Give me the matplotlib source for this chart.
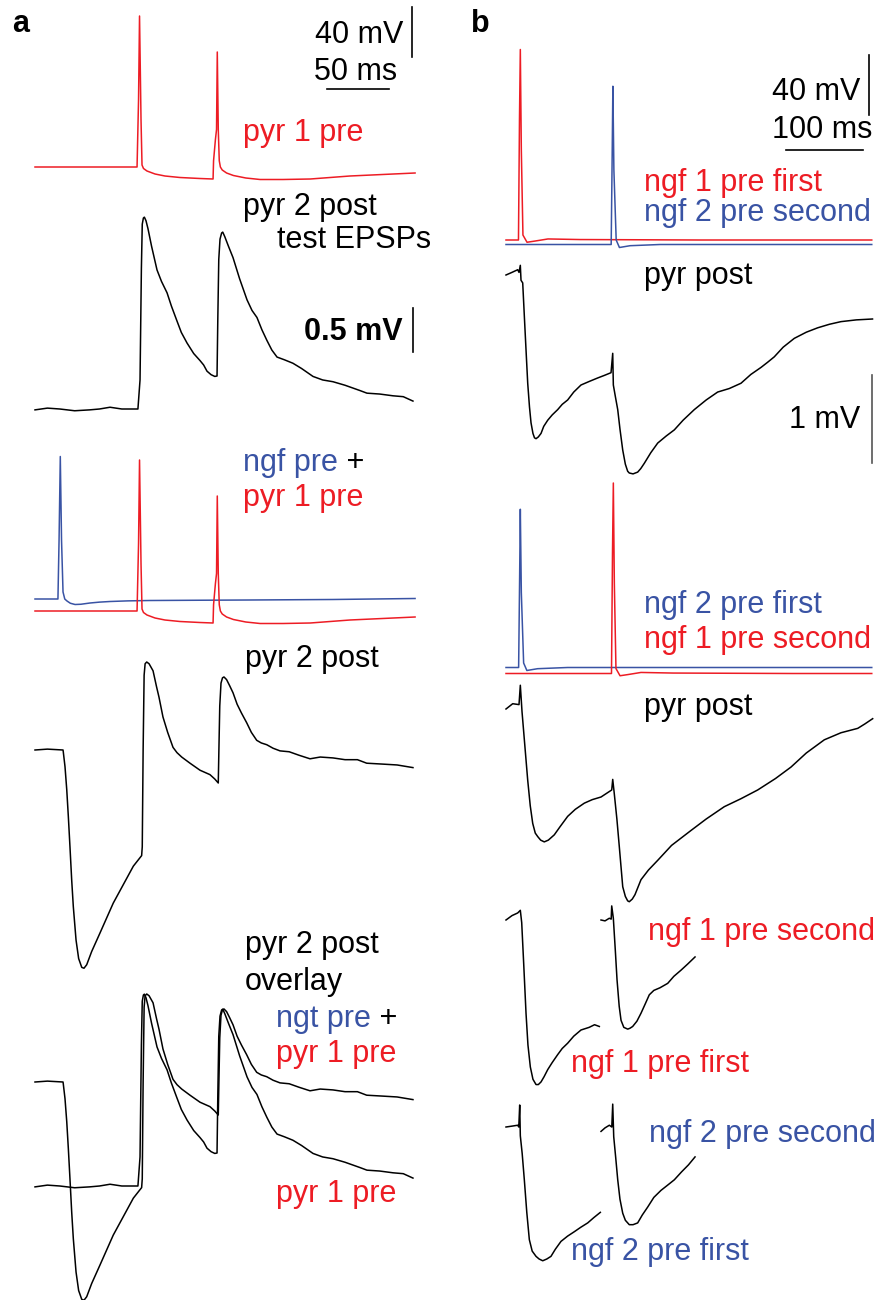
import matplotlib.pyplot as plt
import numpy as np

plt.rcParams['font.family'] = ['Liberation Sans', 'DejaVu Sans']

RED = '#ed1c24'
BLUE = '#3953a4'

# ---- panel a traces (time in ms, voltage change in mV) ----
# pyr 1 pre, two action potentials
a_pre_t = [0, 82.3, 83.5, 84.3, 85.5, 86.3, 87.5, 90.3, 96.8, 104.8, 116.9, 133, 143.6,
           144.0, 145.5, 146.4, 147, 147.8, 148.6, 149.5, 151, 154.5, 160, 170, 181.5,
           200, 222, 254, 306.5]
a_pre_v = [0, 0, 53.6, 120.8, 37.6, 1.6, -1.2, -3.2, -5.6, -7.2, -8.4, -9.2, -9.6,
           5, 22, 30, 92, 30, 5, 0, -2.4, -4.8, -6.8, -8.8, -10,
           -10, -9.6, -7.2, -4.8]

# ngf pre, one action potential
a_ngf_t = [0, 18.5, 19.4, 20.4, 21.4, 22.6, 24, 25.8, 28.5, 32.3, 37, 44.4, 52, 60.5, 75,
           92.7, 130, 173, 240, 306.5]
a_ngf_v = [0, 0, 47, 114, 47, 5.6, 0, -1.6, -3.4, -4.4, -4.2, -3.2, -2.5, -2, -1.5,
           -1.2, -1, -0.8, -0.4, 0.4]

# pyr 2 post, test EPSPs
a_epsp_t = [0, 10, 20, 32, 44, 52, 60.5, 70, 83, 84.7, 85.8, 86.5, 87.4, 88.2, 89.5, 91.1,
            94, 98.4, 102, 106.5, 110, 114.5, 118, 122.6, 128, 133.1, 136, 138.7, 142, 145,
            146.8, 147.4, 148.2, 149.2, 150.5, 151.4, 153, 156, 159.7, 165, 171, 175, 179,
            183, 187, 191, 195.2, 201, 208, 215, 224.2, 232, 240.3, 250, 262, 267.7, 278,
            288.7, 297, 304.8]
a_epsp_v = [-0.01, 0.01, 0, -0.02, -0.01, 0.0, 0.02, 0.0, 0, 0.33, 1.6, 2.1, 2.17, 2.18,
            2.14, 2.05, 1.85, 1.58, 1.45, 1.32, 1.17, 1.0, 0.87, 0.75, 0.63, 0.55, 0.5,
            0.43, 0.39, 0.37, 0.375, 1.0, 1.7, 1.93, 2.0, 2.01, 1.96, 1.85, 1.72, 1.48,
            1.24, 1.12, 1.04, 0.9, 0.78, 0.67, 0.59, 0.56, 0.52, 0.46, 0.37, 0.33, 0.31,
            0.27, 0.21, 0.18, 0.17, 0.15, 0.14, 0.09]

# pyr 2 post, ngf IPSP followed by EPSPs
a_comb_t = [0, 10, 22.6, 22.8, 24.2, 25.6, 26.9, 28.2, 29.6, 30.9, 33.1, 35.2, 37.7, 39.5,
            41.7, 45.7, 52.4, 63.1, 71.2, 79.3, 86, 86.5, 87.2, 88.0, 88.8, 90.1, 92, 95.2,
            98, 100, 103.2, 107, 111.3, 114.5, 118.3, 125, 133.1, 141.1, 145, 147.8, 148.3,
            149, 150, 151.2, 152.4, 154.5, 157, 159.7, 163, 166.5, 170.7, 174.5, 178.8,
            182.5, 186.9, 192, 197.6, 205, 213, 221.8, 230, 240.3, 250, 260, 267.5, 280,
            292, 304.8]
a_comb_v = [0, 0.01, 0, -0.02, -0.19, -0.45, -0.76, -1.10, -1.48, -1.78, -2.16, -2.37,
            -2.47, -2.48, -2.44, -2.29, -2.08, -1.74, -1.53, -1.32, -1.20, -1.1, 0.0, 0.85,
            0.98, 1.00, 0.98, 0.9, 0.72, 0.6, 0.375, 0.2, 0.03, -0.03, -0.08, -0.15, -0.23,
            -0.28, -0.33, -0.375, 0.0, 0.5, 0.76, 0.82, 0.83, 0.8, 0.73, 0.65, 0.52, 0.42,
            0.31, 0.2, 0.11, 0.08, 0.06, 0.02, -0.01, -0.02, -0.06, -0.1, -0.08, -0.09,
            -0.11, -0.11, -0.15, -0.16, -0.17, -0.2]

# ---- panel b traces ----
# spike shapes, time relative to the spike peak
ngf1_dt = [-2.4, -1.1, 0, 1.3, 3.4, 8.7, 19.1, 35.9, 77.4, 233]
ngf1_v = [0, 80, 127, 60, 3.3, -1.5, -0.7, 0.7, 0.3, 0]
ngf2_dt = [-2.2, -0.9, 0, 1.3, 4.3, 8.5, 22.4, 61.4]
ngf2_v = [0, 60, 105.5, 50, 3, -2, -0.8, 0]
b_first = 18.6
b_second = 138.8
b_end = 475

# pyr post, ngf 1 first then ngf 2
b_post1_t = [0, 7.8, 15.2, 16.9, 18.6, 19.5, 21.7, 24, 26, 28.2, 30.5, 32.5, 35, 37, 39, 42,
             45.5, 49, 54.2, 60, 67.1, 73, 80.1, 88, 97.4, 108, 119.1, 128, 136.4, 138.6,
             139.4, 142, 145.1, 148, 151.6, 155, 158, 160.1, 165, 171, 175, 179.6, 188, 197,
             208, 218.6, 230, 244.5, 260, 274.9, 290, 305.2, 318, 331.2, 340, 348.4, 360,
             374.4, 390, 404.8, 420, 435, 455, 476]
b_post1_v = [0, 0.03, 0.06, 0.03, 0.11, -0.06, -0.09, -0.5, -0.85, -1.23, -1.5, -1.68,
             -1.8, -1.85, -1.86, -1.84, -1.8, -1.72, -1.65, -1.59, -1.53, -1.47, -1.42,
             -1.33, -1.25, -1.21, -1.17, -1.14, -1.11, -0.89, -1.25, -1.38, -1.53, -1.75,
             -1.99, -2.15, -2.23, -2.25, -2.26, -2.24, -2.2, -2.14, -2.02, -1.91, -1.83,
             -1.76, -1.65, -1.53, -1.42, -1.33, -1.29, -1.23, -1.13, -1.05, -0.99, -0.93,
             -0.82, -0.72, -0.65, -0.60, -0.56, -0.53, -0.51, -0.5]

# pyr post, ngf 2 first then ngf 1
b_post2_t = [0, 8.7, 16.9, 18.6, 20.8, 24.5, 28.2, 31.5, 34.7, 38, 41.2, 45, 49.7, 55, 62.7,
             70, 80.1, 90, 101.7, 112, 123.4, 137.3, 138.6, 140.6, 144, 147.1, 151.6, 155,
             158, 160.1, 164, 167.5, 175.3, 185, 197, 215, 240.3, 260, 283.5, 305, 326.9,
             350, 370.1, 390, 413.4, 435, 456.8, 466, 476.2]
b_post2_v = [0, 0.06, 0.05, 0.27, -0.03, -0.42, -0.81, -1.1, -1.30, -1.41, -1.45, -1.49,
             -1.51, -1.49, -1.43, -1.34, -1.22, -1.14, -1.07, -1.03, -1.0, -0.92, -0.80,
             -0.96, -1.25, -1.56, -2.02, -2.13, -2.18, -2.19, -2.16, -2.11, -1.94, -1.83,
             -1.72, -1.55, -1.38, -1.25, -1.11, -1.02, -0.92, -0.79, -0.66, -0.5, -0.35,
             -0.27, -0.22, -0.17, -0.11]

# single responses
ngf1_first_t = [0, 7.8, 15.2, 18.6, 20.4, 23, 26, 28.5, 31.6, 35, 39, 42, 45.5, 49.5, 54.2,
                60, 67.1, 73, 80.1, 88, 97.4, 108, 115, 121.2]
ngf1_first_v = [0, 0.05, 0.08, 0.11, -0.03, -0.5, -1.06, -1.42, -1.67, -1.81, -1.87, -1.87,
                -1.84, -1.78, -1.70, -1.62, -1.53, -1.46, -1.40, -1.32, -1.25, -1.22, -1.19,
                -1.21]
ngf1_second_t = [123.4, 128.6, 134.2, 136.6, 137.3, 139.4, 142, 144.2, 147, 149.4, 153, 158.1,
                 161, 164.5, 170, 175.3, 181, 186.1, 192, 200, 210, 218, 227.3, 236, 245.5]
ngf1_second_v = [0, -0.01, 0.02, 0.01, 0.16, 0.02, -0.35, -0.68, -0.98, -1.14, -1.22, -1.24,
                 -1.23, -1.21, -1.15, -1.06, -0.95, -0.85, -0.8, -0.77, -0.72, -0.64, -0.57,
                 -0.5, -0.42]
ngf2_first_t = [0, 7.8, 15.2, 16.6, 17.8, 18.6, 21, 23.8, 27, 30.3, 34, 39, 43, 47.7, 53, 58.4,
                64, 71.4, 80, 88.7, 97, 106.1, 114, 122.5]
ngf2_first_v = [0, 0.01, 0.02, 0, 0.25, -0.10, -0.3, -0.60, -0.97, -1.28, -1.41, -1.47, -1.5,
                -1.52, -1.5, -1.47, -1.39, -1.30, -1.24, -1.19, -1.14, -1.09, -1.03, -0.97]
ngf2_second_t = [123.4, 128.6, 134.2, 137.4, 138.6, 139.9, 142.5, 145.1, 148, 151.6, 155,
                 160.1, 165, 171, 177, 184, 192, 201.3, 210, 218.6, 228, 237, 245.5]
ngf2_second_v = [-0.05, -0.01, 0.02, 0, 0.26, -0.11, -0.35, -0.60, -0.82, -0.98, -1.06,
                 -1.11, -1.11, -1.09, -1.0, -0.91, -0.8, -0.72, -0.66, -0.60, -0.51, -0.43,
                 -0.34]


def spike_trace(dt, v, t_spike, t_end):
    t = [0] + [t_spike + d for d in dt] + [t_end]
    vv = [0] + list(v) + [0]
    return t, vv


fig = plt.figure(figsize=(8.82, 13), dpi=100)
ax = fig.add_axes([0, 0, 1, 1])
ax.set_xlim(0, 882)
ax.set_ylim(1300, 0)
ax.axis('off')


def draw(t, v, x0, sx, y0, sy, color='black', lw=1.1):
    x = x0 + np.asarray(t, float) * sx
    y = y0 - np.asarray(v, float) * sy
    ax.plot(x, y, color=color, lw=lw, solid_joinstyle='round')


# panel a placement
ax0, asx = 35, 1.24      # px, px per ms
apre, apost = 1.25, 88   # px per mV

draw(a_pre_t, a_pre_v, ax0, asx, 167, apre, RED)
draw(a_epsp_t, a_epsp_v, ax0, asx, 409, apost)
draw(a_ngf_t, a_ngf_v, ax0, asx, 599, apre, BLUE)
draw(a_pre_t, a_pre_v, ax0, asx, 611, apre, RED)
draw(a_comb_t, a_comb_v, ax0, asx, 750, apost)
draw(a_comb_t, a_comb_v, ax0, asx, 1082, apost)
draw(a_epsp_t, a_epsp_v, ax0, asx, 1186, apost)

# panel b placement
bx0, bsx = 506, 0.77
bpre, bpost = 1.5, 88

t, v = spike_trace(ngf1_dt, ngf1_v, b_first, b_end)
draw(t, v, bx0, bsx, 240, bpre, RED)
t, v = spike_trace(ngf2_dt, ngf2_v, b_second, b_end)
draw(t, v, bx0, bsx, 244.5, bpre, BLUE)
draw(b_post1_t, b_post1_v, bx0, bsx, 275, bpost)

t, v = spike_trace(ngf2_dt, ngf2_v, b_first, b_end)
draw(t, v, bx0, bsx, 667.5, bpre, BLUE)
t, v = spike_trace(ngf1_dt, ngf1_v, b_second + 0.6, b_end)
draw(t, v, bx0, bsx, 673.5, bpre, RED)
draw(b_post2_t, b_post2_v, bx0, bsx, 709, bpost)

draw(ngf1_first_t, ngf1_first_v, bx0, bsx, 920, bpost)
draw(ngf1_second_t, ngf1_second_v, bx0, bsx, 920, bpost)
draw(ngf2_first_t, ngf2_first_v, bx0, bsx, 1127, bpost)
draw(ngf2_second_t, ngf2_second_v, bx0, bsx, 1127, bpost)

# scale bars
sb = dict(color='black', lw=1.2)
ax.plot([412, 412], [57, 57 - 40 * apre], **sb)
ax.plot([327, 327 + 50 * asx], [89, 89], **sb)
ax.plot([413, 413], [352, 352 - 0.5 * apost], **sb)
ax.plot([869, 869], [115, 115 - 40 * bpre], **sb)
ax.plot([786, 786 + 100 * bsx], [150, 150], **sb)
ax.plot([872, 872], [463, 463 - 1 * bpost], color='#555555', lw=1.2)

fs = 22
txt = dict(fontsize=fs, va='center', ha='left')


def label_plus(x, y, s, color):
    t = ax.text(x, y, s, color=color, **txt)
    ax.annotate(' +', xy=(1, 0), xycoords=t, fontsize=fs, va='bottom', ha='left')


ax.text(12, 24, 'a', fontsize=22, fontweight='bold', va='center', ha='left')
ax.text(471, 24, 'b', fontsize=22, fontweight='bold', va='center', ha='left')

ax.text(403, 35, '40 mV', fontsize=fs, va='center', ha='right')
ax.text(314, 72, '50 ms', **txt)
ax.text(243, 133, 'pyr 1 pre', color=RED, **txt)
ax.text(243, 207, 'pyr 2 post', **txt)
ax.text(277, 240, 'test EPSPs', **txt)
ax.text(403, 332, '0.5 mV', fontsize=fs, fontweight='bold', va='center', ha='right')

label_plus(243, 463, 'ngf pre', BLUE)
ax.text(243, 498, 'pyr 1 pre', color=RED, **txt)
ax.text(245, 659, 'pyr 2 post', **txt)
ax.text(245, 945, 'pyr 2 post', **txt)
ax.text(245, 982, 'overlay', **txt)
label_plus(276, 1019, 'ngt pre', BLUE)
ax.text(276, 1054, 'pyr 1 pre', color=RED, **txt)
ax.text(276, 1194, 'pyr 1 pre', color=RED, **txt)

ax.text(860, 92, '40 mV', fontsize=fs, va='center', ha='right')
ax.text(772, 130, '100 ms', **txt)
ax.text(644, 183, 'ngf 1 pre first', color=RED, **txt)
ax.text(644, 213, 'ngf 2 pre second', color=BLUE, **txt)
ax.text(644, 276, 'pyr post', **txt)
ax.text(860, 420, '1 mV', fontsize=fs, va='center', ha='right')
ax.text(644, 605, 'ngf 2 pre first', color=BLUE, **txt)
ax.text(644, 640, 'ngf 1 pre second', color=RED, **txt)
ax.text(644, 707, 'pyr post', **txt)
ax.text(648, 932, 'ngf 1 pre second', color=RED, **txt)
ax.text(571, 1064, 'ngf 1 pre first', color=RED, **txt)
ax.text(649, 1134, 'ngf 2 pre second', color=BLUE, **txt)
ax.text(571, 1252, 'ngf 2 pre first', color=BLUE, **txt)

fig.savefig('out.png', dpi=100)
